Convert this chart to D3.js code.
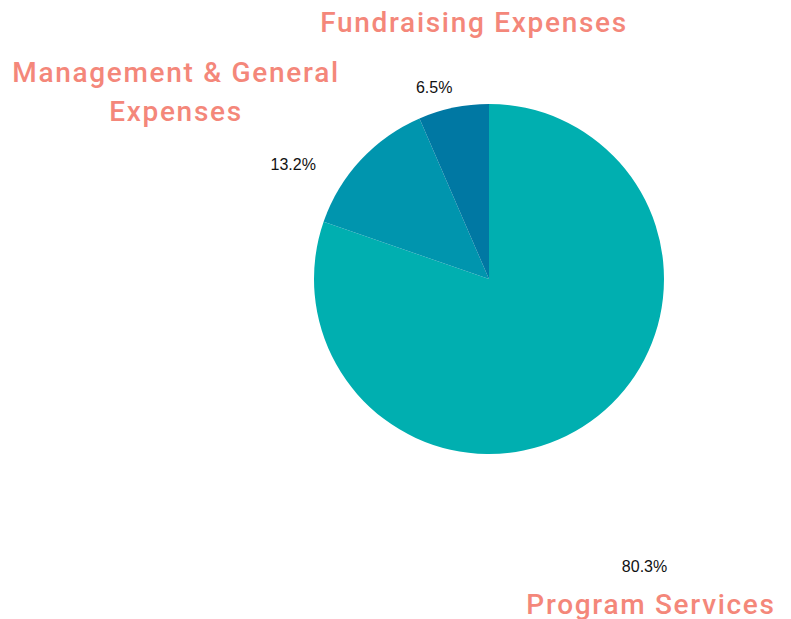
<!DOCTYPE html>
<html>
<head>
<meta charset="utf-8">
<script src="https://cdn.jsdelivr.net/npm/d3@7"></script>
<style>
  html, body { margin: 0; padding: 0; background: #fff; }
  svg { display: block; }
</style>
</head>
<body>
<svg id="chart" width="791" height="619"></svg>
<script>
const categories = ["Program Services", "Management & General Expenses", "Fundraising Expenses"];
const values = [80.3, 13.2, 6.5];
const colors = ["#00AFB0", "#0095AE", "#0078A3"];
const pctLabels = ["80.3%", "13.2%", "6.5%"];

const width = 791, height = 619;
const cx = 489, cy = 279, radius = 175;
const svg = d3.select("#chart");

const pie = d3.pie().sort(null).value(d => d);
const arcs = pie(values);
const arc = d3.arc().innerRadius(0).outerRadius(radius);

const g = svg.append("g").attr("transform", `translate(${cx},${cy})`);
g.selectAll("path").data(arcs).enter().append("path")
  .attr("d", arc)
  .attr("fill", (d, i) => colors[i]);

// label placement: polar (angle in degrees, radius) for percentage labels
const pctPolar = [{ a: 151.6, r: 327 }, { a: 300.4, r: 227 }, { a: 344, r: 199 }];
function polar(aDeg, r) {
  const a = aDeg * Math.PI / 180;
  return [Math.sin(a) * r, -Math.cos(a) * r];
}

g.selectAll("text.pct").data(arcs).enter().append("text")
  .attr("class", "pct")
  .attr("x", (d, i) => polar(pctPolar[i].a, pctPolar[i].r)[0])
  .attr("y", (d, i) => polar(pctPolar[i].a, pctPolar[i].r)[1])
  .attr("dy", "0.35em")
  .attr("text-anchor", "middle")
  .attr("font-family", "Liberation Sans, Arial, sans-serif")
  .attr("font-size", 16)
  .attr("fill", "#111")
  .text((d, i) => pctLabels[i]);

// category labels
const catLines = [["Program Services"], ["Management & General", "Expenses"], ["Fundraising Expenses"]];
const catPos = [[651, 614], [176, 82], [474, 32]];
const lineH = 39;
catLines.forEach((lines, i) => {
  const t = svg.append("text")
    .attr("text-anchor", "middle")
    .attr("font-family", "Roboto, sans-serif")
    .attr("font-weight", 500)
    .attr("font-size", 28)
    .attr("letter-spacing", "1.7px")
    .attr("fill", "#F4877A");
  lines.forEach((ln, j) => {
    t.append("tspan").attr("x", catPos[i][0]).attr("y", catPos[i][1] + j * lineH).text(ln);
  });
});
</script>
</body>
</html>
